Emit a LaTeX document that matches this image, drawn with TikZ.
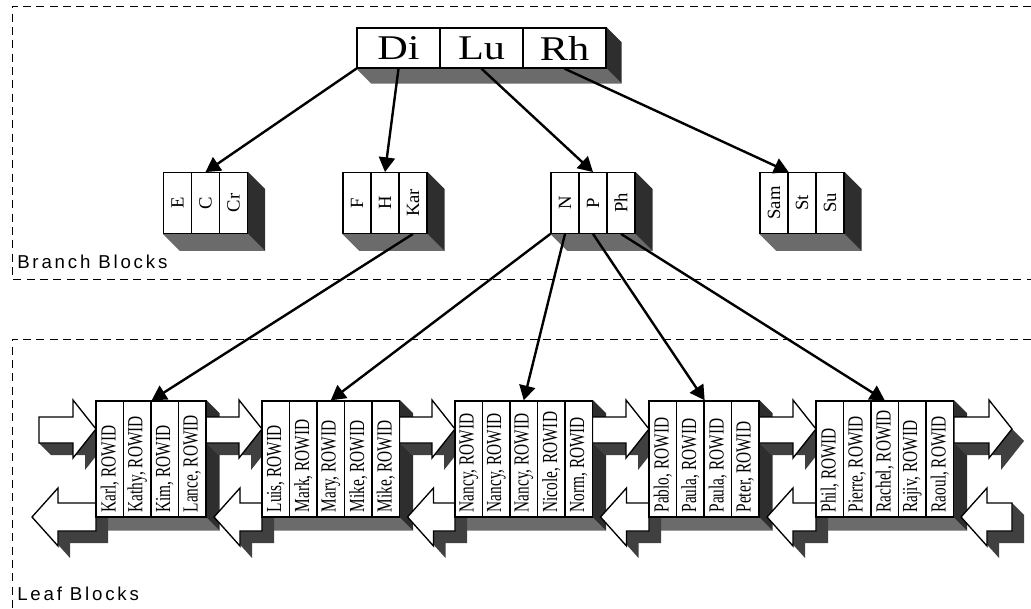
\documentclass[tikz,border=0pt]{standalone}
\usepackage{fontspec}
\setmainfont{Liberation Serif}
\newfontfamily\lblfont{Liberation Sans}[LetterSpace=15]
\usetikzlibrary{arrows.meta}
\pgfdeclarelayer{back}
\pgfdeclarelayer{mid}
\pgfsetlayers{back,mid,main}
\newcommand{\leaftext}[1]{\rotatebox{90}{\scalebox{1}[1.4]{\makebox[80pt][l]{#1}}}}
\newcommand{\brtext}[1]{\rotatebox{90}{#1}}
\newcommand{\roottext}[1]{\scalebox{1.22}[1]{#1}}
\begin{document}
\begin{tikzpicture}[x=0.75pt,y=-0.75pt,
    rootcell/.style={draw,line width=1pt,fill=white,minimum width=62.25pt,minimum height=30pt,inner sep=0pt,font=\fontsize{26}{26}\selectfont},
    brcell/.style={draw,line width=1pt,fill=white,minimum width=21pt,minimum height=45.4pt,inner sep=0pt,font=\fontsize{14}{14}\selectfont},
    leafcell/.style={draw,line width=1pt,fill=white,minimum width=20.6pt,minimum height=87pt,inner sep=0pt,font=\fontsize{11.5}{11.5}\selectfont},
    ptr/.style={-{Triangle[length=11pt,width=12pt]},line width=1.8pt},
    region/.style={dash pattern=on 6pt off 4pt,line width=0.6pt},
    label/.style={anchor=west,inner sep=0pt,font={\lblfont\fontsize{14}{15}\selectfont}},
    basefc/.style={fill=black!58},
    sidefc/.style={fill=black!82},
    arrsh/.style={fill=black!75},
    arrfc/.style={fill=white,draw,line width=1pt}]
    \useasboundingbox (0,0) rectangle (1031,609);
    % regions
    \draw[region] (1031,6) -- (12,6) -- (12,279) -- (1031,279);
    \draw[region] (1031,339) -- (12,339) -- (12,609);
    \node[label] (brlbl) at (17,262) {Branch Blocks};
    \node[label] (lflbl) at (17,594) {Leaf Blocks};
    % root block
    \node[rootcell] (di) at (398.5,48) {\roottext{Di}};
    \node[rootcell] (lu) at (481.5,48) {\roottext{Lu}};
    \node[rootcell] (rh) at (564.5,48) {\roottext{Rh}};
    % branch blocks
    \node[brcell] (e) at (177.5,203) {\brtext{E}};
    \node[brcell] (c) at (205.5,203) {\brtext{C}};
    \node[brcell] (cr) at (233.5,203) {\brtext{Cr}};
    \node[brcell] (f) at (357,203) {\brtext{F}};
    \node[brcell] (h) at (385,203) {\brtext{H}};
    \node[brcell] (kar) at (413,203) {\brtext{Kar}};
    \node[brcell] (n) at (565,203) {\brtext{N}};
    \node[brcell] (p) at (593,203) {\brtext{P}};
    \node[brcell] (ph) at (621,203) {\brtext{Ph}};
    \node[brcell] (sam) at (774,203) {\brtext{Sam}};
    \node[brcell] (st) at (802,203) {\brtext{St}};
    \node[brcell] (su) at (830,203) {\brtext{Su}};
    % leaf blocks
    \node[leafcell] (karl) at (109.75,459) {\leaftext{Karl, ROWID}};
    \node[leafcell] (kathy) at (137.25,459) {\leaftext{Kathy, ROWID}};
    \node[leafcell] (kim) at (164.75,459) {\leaftext{Kim, ROWID}};
    \node[leafcell] (lance) at (192.25,459) {\leaftext{Lance, ROWID}};
    \node[leafcell] (luis) at (275.75,459) {\leaftext{Luis, ROWID}};
    \node[leafcell] (mark) at (303.25,459) {\leaftext{Mark, ROWID}};
    \node[leafcell] (mary) at (330.75,459) {\leaftext{Mary, ROWID}};
    \node[leafcell] (mikea) at (358.25,459) {\leaftext{Mike, ROWID}};
    \node[leafcell] (mikeb) at (385.75,459) {\leaftext{Mike, ROWID}};
    \node[leafcell] (nancya) at (468.75,459) {\leaftext{Nancy, ROWID}};
    \node[leafcell] (nancyb) at (496.25,459) {\leaftext{Nancy, ROWID}};
    \node[leafcell] (nancyc) at (523.75,459) {\leaftext{Nancy, ROWID}};
    \node[leafcell] (nicole) at (551.25,459) {\leaftext{Nicole, ROWID}};
    \node[leafcell] (norm) at (578.75,459) {\leaftext{Norm, ROWID}};
    \node[leafcell] (pablo) at (662.75,459) {\leaftext{Pablo, ROWID}};
    \node[leafcell] (paulaa) at (690.25,459) {\leaftext{Paula, ROWID}};
    \node[leafcell] (paulab) at (717.75,459) {\leaftext{Paula, ROWID}};
    \node[leafcell] (peter) at (745.25,459) {\leaftext{Peter, ROWID}};
    \node[leafcell] (phil) at (829.75,459) {\leaftext{Phil, ROWID}};
    \node[leafcell] (pierre) at (857.25,459) {\leaftext{Pierre, ROWID}};
    \node[leafcell] (rachel) at (884.75,459) {\leaftext{Rachel, ROWID}};
    \node[leafcell] (rajiv) at (912.25,459) {\leaftext{Rajiv, ROWID}};
    \node[leafcell] (raoul) at (939.75,459) {\leaftext{Raoul, ROWID}};
    % depth of the blocks
    \begin{pgfonlayer}{back}
        \foreach \a/\b/\d in {di/rh/15, e/cr/17, f/kar/17, n/ph/17, sam/su/17, karl/lance/13, luis/mikeb/13, nancya/norm/13, pablo/peter/13, phil/raoul/13} {
            \fill[basefc] (\a.south west) -- (\b.south east) -- ([shift={(\d,\d)}]\b.south east) -- ([shift={(\d,\d)}]\a.south west) -- cycle;
            \fill[sidefc] (\b.north east) -- ([shift={(\d,\d)}]\b.north east) -- ([shift={(\d,\d)}]\b.south east) -- (\b.south east) -- cycle;
        }
    \end{pgfonlayer}
    % chain arrows between leaf blocks
    \begin{pgfonlayer}{mid}
        \foreach \xa/\xb in {39/96, 206/262, 399.5/455, 592.5/649, 759/816, 954/1012} {
            \fill[arrsh] (\xa,417) -- (\xb-23,417) -- (\xb-23,400) -- (\xb,429) -- (\xb+12,441) -- (\xb-11,470) -- (\xb-11,455) -- (\xa+12,455) -- (\xa,443) -- cycle;
            \draw[arrfc] (\xa,417) -- (\xb-23,417) -- (\xb-23,400) -- (\xb,429) -- (\xb-23,458) -- (\xb-23,443) -- (\xa,443) -- cycle;
        }
        \foreach \xa/\xb in {32/96, 214/262, 407.5/455, 600.5/649, 767/816, 961/1012} {
            \fill[arrsh] (\xa,517) -- (\xa+26,488) -- (\xa+26,503) -- (\xb,503) -- (\xb+12,515) -- (\xb+12,543) -- (\xa+38,543) -- (\xa+38,558) -- (\xa+12,529) -- cycle;
            \draw[arrfc] (\xa,517) -- (\xa+26,488) -- (\xa+26,503) -- (\xb,503) -- (\xb,531) -- (\xa+26,531) -- (\xa+26,546) -- cycle;
        }
    \end{pgfonlayer}
    % pointers
    \draw[ptr] (di.south west) -- (c.north);
    \draw[ptr] (di.south) -- (h.north);
    \draw[ptr] (lu.south) -- (p.north);
    \draw[ptr] (rh.south) -- (sam.north east);
    \draw[ptr] (kar.south) -- (kathy.north east);
    \draw[ptr] (n.south west) -- (mary.north);
    \draw[ptr] (n.south) -- (nancyc.north);
    \draw[ptr] (p.south) -- (paulaa.north east);
    \draw[ptr] (ph.south) -- (rachel.north);
\end{tikzpicture}
\end{document}
